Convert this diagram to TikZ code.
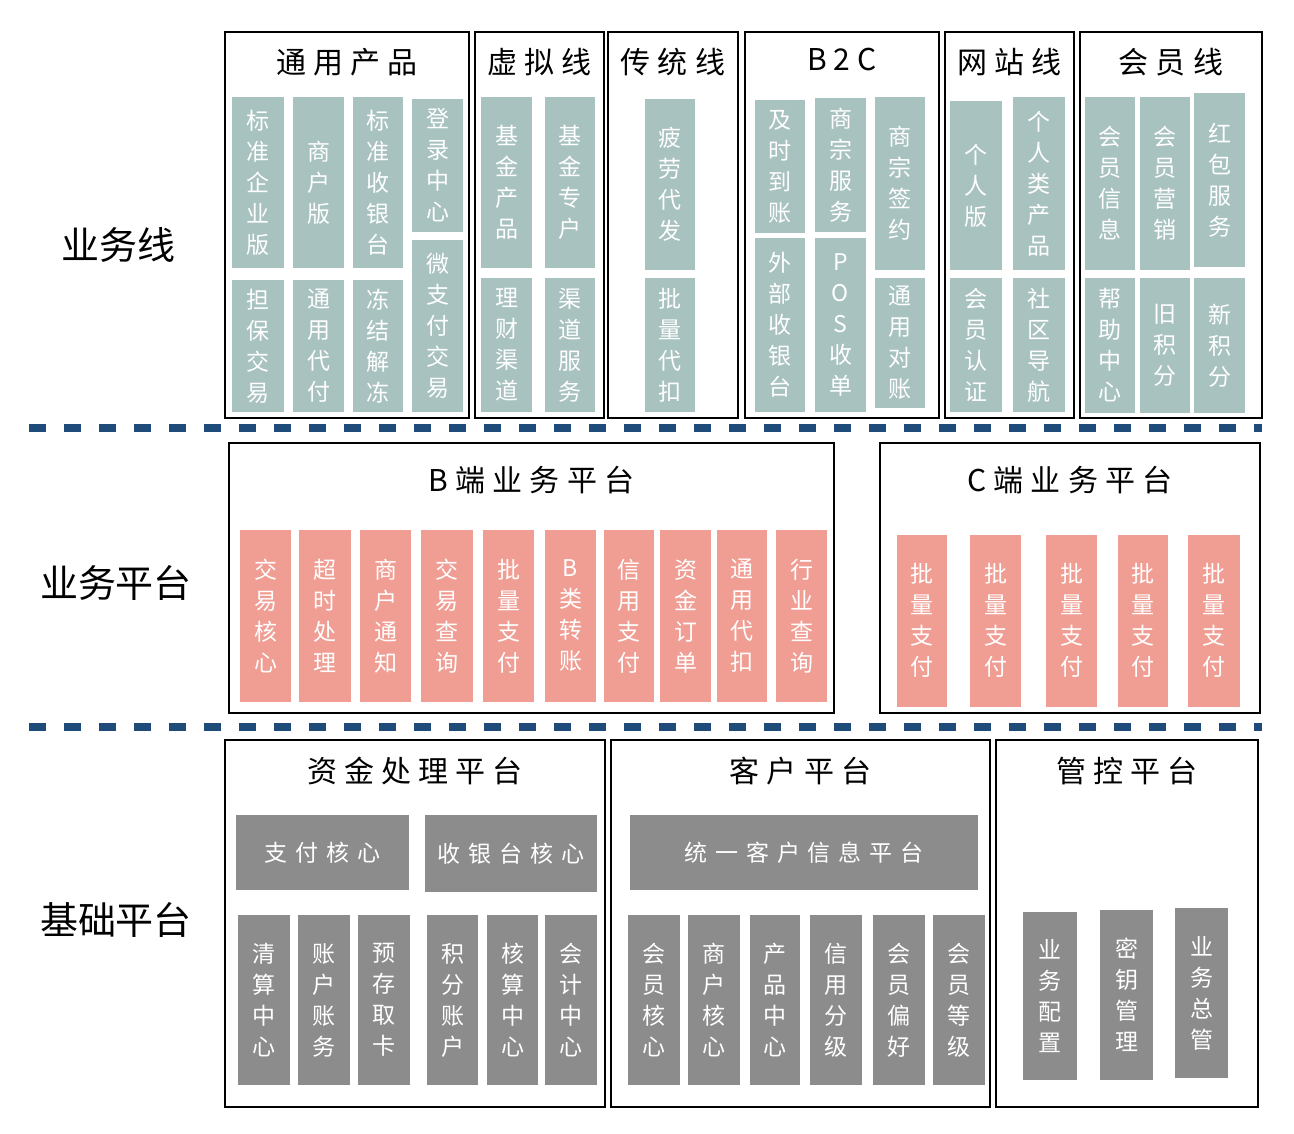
\documentclass[tikz,border=0pt]{standalone}
\usepackage{fontspec}
\setmainfont{Noto Sans CJK SC}
\newfontfamily\spacedfont[LetterSpace=24]{Noto Sans CJK SC}
\newfontfamily\widespaced[LetterSpace=34]{Noto Sans CJK SC}
\usepackage{xcolor}
\usepackage{tikz}
\usetikzlibrary{fit,positioning}
\XeTeXlinebreaklocale "zh"
\XeTeXlinebreakskip=0pt plus 1pt
\definecolor{sageC}{HTML}{A8C2C0}
\definecolor{pinkC}{HTML}{F09D93}
\definecolor{grayC}{HTML}{8C8C8C}
\definecolor{sepC}{HTML}{1F4B7A}
\newcommand{\titlefont}{\spacedfont\fontsize{30}{32}\selectfont}
\newcommand{\sidefont}{\fontsize{38}{40}\selectfont}
\newcommand{\boxfont}{\fontsize{23}{31}\selectfont}
\newcommand{\widefont}{\widespaced\fontsize{23}{26}\selectfont}
\tikzstyle{lineframe} = [rectangle, draw, line width=1.6pt, inner sep=0pt]
\tikzstyle{frametitle} = [font=\titlefont, inner sep=0pt]
\tikzstyle{sidelabel} = [font=\sidefont, inner sep=0pt]
\tikzstyle{vbox} = [rectangle, inner sep=0pt, text=white, text width=25pt,
    align=center, font=\boxfont]
\tikzstyle{sagebox} = [vbox, fill=sageC]
\tikzstyle{pinkbox} = [vbox, fill=pinkC, minimum height=172]
\tikzstyle{graybox} = [vbox, fill=grayC]
\tikzstyle{widegray} = [rectangle, inner sep=0pt, fill=grayC, text=white, font=\widefont]
\tikzstyle{sepline} = [draw=sepC, line width=8pt, dash pattern=on 17pt off 18pt]

\begin{document}
\begin{tikzpicture}[x=1pt, y=-1pt]
			\useasboundingbox (0,0) rectangle (1294,1134);
			% Side labels
			\node [sidelabel] (lineLabel) at (118,245) {业务线};
			\node [sidelabel] (platLabel) at (116,583) {业务平台};
			\node [sidelabel] (baseLabel) at (116,920) {基础平台};

			% Business lines
			\node [lineframe, fit={(225,32) (469,418)}] (generalFrame) {};
			\node [frametitle, below=17pt of generalFrame.north] (generalTitle) {通用产品};
			\node [lineframe, fit={(475,32) (604,418)}] (virtualFrame) {};
			\node [frametitle, below=17pt of virtualFrame.north] (virtualTitle) {虚拟线};
			\node [lineframe, fit={(608,32) (738,418)}] (classicFrame) {};
			\node [frametitle, below=17pt of classicFrame.north] (classicTitle) {传统线};
			\node [lineframe, fit={(745,32) (939,418)}] (btocFrame) {};
			\node [frametitle, below=17pt of btocFrame.north] (btocTitle) {B2C};
			\node [lineframe, fit={(945,32) (1074,418)}] (siteFrame) {};
			\node [frametitle, below=17pt of siteFrame.north] (siteTitle) {网站线};
			\node [lineframe, fit={(1080,32) (1262,418)}] (memberFrame) {};
			\node [frametitle, below=17pt of memberFrame.north] (memberTitle) {会员线};

			\node [sagebox, minimum width=52, minimum height=171] (stdEntBox) at (258,182.5) {标准企业版};
			\node [sagebox, minimum width=52, minimum height=132] (guarTradeBox) at (258,346) {担保交易};
			\node [sagebox, minimum width=51, minimum height=171] (merchEdBox) at (318.5,182.5) {商户版};
			\node [sagebox, minimum width=51, minimum height=132] (genPayoutBox) at (318.5,346) {通用代付};
			\node [sagebox, minimum width=50, minimum height=171] (stdCashierBox) at (378,182.5) {标准收银台};
			\node [sagebox, minimum width=50, minimum height=132] (freezeBox) at (378,346) {冻结解冻};
			\node [sagebox, minimum width=51, minimum height=133] (loginBox) at (437.5,165.5) {登录中心};
			\node [sagebox, minimum width=51, minimum height=172] (microPayBox) at (437.5,326) {微支付交易};

			\node [sagebox, minimum width=51, minimum height=171] (fundProdBox) at (506.5,182.5) {基金产品};
			\node [sagebox, minimum width=51, minimum height=134] (wealthChanBox) at (506.5,345) {理财渠道};
			\node [sagebox, minimum width=50, minimum height=171] (fundAcctBox) at (570,182.5) {基金专户};
			\node [sagebox, minimum width=50, minimum height=134] (chanServBox) at (570,345) {渠道服务};

			\node [sagebox, minimum width=50, minimum height=171] (laborPayBox) at (670,184.5) {疲劳代发};
			\node [sagebox, minimum width=50, minimum height=134] (batchDebitBox) at (670,345) {批量代扣};

			\node [sagebox, minimum width=50, minimum height=133] (instantBox) at (780,166.5) {及时到账};
			\node [sagebox, minimum width=50, minimum height=174] (extCashierBox) at (780,325) {外部收银台};
			\node [sagebox, minimum width=51, minimum height=134] (merchServBox) at (840.5,165) {商宗服务};
			\node [sagebox, minimum width=51, minimum height=174] (posBox) at (840.5,325) {P\\O\\S\\收\\单};
			\node [sagebox, minimum width=50, minimum height=173] (merchSignBox) at (900,183.5) {商宗签约};
			\node [sagebox, minimum width=50, minimum height=130] (genReconBox) at (900,343) {通用对账};

			\node [sagebox, minimum width=52, minimum height=169] (personalBox) at (976,185.5) {个人版};
			\node [sagebox, minimum width=52, minimum height=134] (memberAuthBox) at (976,345) {会员认证};
			\node [sagebox, minimum width=52, minimum height=173] (personalProdBox) at (1039,183.5) {个人类产品};
			\node [sagebox, minimum width=52, minimum height=134] (communityBox) at (1039,345) {社区导航};

			\node [sagebox, minimum width=50, minimum height=173] (memberInfoBox) at (1110,183.5) {会员信息};
			\node [sagebox, minimum width=50, minimum height=135] (helpBox) at (1110,345.5) {帮助中心};
			\node [sagebox, minimum width=50, minimum height=173] (memberMktBox) at (1165,183.5) {会员营销};
			\node [sagebox, minimum width=50, minimum height=135] (oldPointsBox) at (1165,345.5) {旧积分};
			\node [sagebox, minimum width=51, minimum height=174] (redPacketBox) at (1219.5,180) {红包服务};
			\node [sagebox, minimum width=51, minimum height=135] (newPointsBox) at (1219.5,345.5) {新积分};

			% Separators
			\coordinate (sepOneL) at (29,428);
			\coordinate (sepOneR) at (1262,428);
			\coordinate (sepTwoL) at (29,727);
			\coordinate (sepTwoR) at (1262,727);
			\path [sepline] (sepOneL) -- (sepOneR);
			\path [sepline] (sepTwoL) -- (sepTwoR);

			% Business platforms
			\node [lineframe, fit={(229,443) (834,713)}] (bPlatFrame) {};
			\node [frametitle, below=24pt of bPlatFrame.north] (bPlatTitle) {B端业务平台};
			\node [lineframe, fit={(880,443) (1260,713)}] (cPlatFrame) {};
			\node [frametitle, below=24pt of cPlatFrame.north] (cPlatTitle) {C端业务平台};

			\node [pinkbox, minimum width=51] (tradeCoreBox) at (265.5,616) {交易核心};
			\node [pinkbox, minimum width=52] (timeoutBox) at (325,616) {超时处理};
			\node [pinkbox, minimum width=51] (merchNotifyBox) at (385.5,616) {商户通知};
			\node [pinkbox, minimum width=52] (tradeQueryBox) at (447,616) {交易查询};
			\node [pinkbox, minimum width=51] (batchPayBox) at (508.5,616) {批量支付};
			\node [pinkbox, minimum width=51] (bTransferBox) at (570.5,616) {B\\类转账};
			\node [pinkbox, minimum width=50] (creditPayBox) at (629,616) {信用支付};
			\node [pinkbox, minimum width=51] (fundOrderBox) at (685.5,616) {资金订单};
			\node [pinkbox, minimum width=50] (genDebitBox) at (742,616) {通用代扣};
			\node [pinkbox, minimum width=51] (industryQueryBox) at (801.5,616) {行业查询};

			\node [pinkbox, minimum width=50] (cBatchPayA) at (922,620.5) {批量支付};
			\node [pinkbox, minimum width=51] (cBatchPayB) at (995.5,620.5) {批量支付};
			\node [pinkbox, minimum width=51] (cBatchPayC) at (1071.5,620.5) {批量支付};
			\node [pinkbox, minimum width=50] (cBatchPayD) at (1143,620.5) {批量支付};
			\node [pinkbox, minimum width=52] (cBatchPayE) at (1214,620.5) {批量支付};

			% Base platforms
			\node [lineframe, fit={(225,740) (605,1107)}] (fundFrame) {};
			\node [frametitle, below=18pt of fundFrame.north] (fundTitle) {资金处理平台};
			\node [lineframe, fit={(611,740) (990,1107)}] (custFrame) {};
			\node [frametitle, below=18pt of custFrame.north] (custTitle) {客户平台};
			\node [lineframe, fit={(996,740) (1258,1107)}] (ctrlFrame) {};
			\node [frametitle, below=18pt of ctrlFrame.north] (ctrlTitle) {管控平台};

			\node [widegray, minimum width=173, minimum height=75] (payCoreBox) at (322.5,852.5) {支付核心};
			\node [widegray, minimum width=172, minimum height=77] (cashierCoreBox) at (511,853.5) {收银台核心};
			\node [widegray, minimum width=348, minimum height=75] (custInfoBox) at (804,852.5) {统一客户信息平台};

			\node [graybox, minimum width=52, minimum height=170] (clearingBox) at (264,1000) {清算中心};
			\node [graybox, minimum width=52, minimum height=170] (acctBookBox) at (324,1000) {账户账务};
			\node [graybox, minimum width=52, minimum height=170] (prepaidBox) at (384,1000) {预存取卡};
			\node [graybox, minimum width=51, minimum height=170] (pointsAcctBox) at (452.5,1000) {积分账户};
			\node [graybox, minimum width=51, minimum height=170] (accountingBox) at (512.5,1000) {核算中心};
			\node [graybox, minimum width=52, minimum height=170] (finCenterBox) at (571,1000) {会计中心};

			\node [graybox, minimum width=52, minimum height=170] (memberCoreBox) at (654,1000) {会员核心};
			\node [graybox, minimum width=52, minimum height=170] (merchCoreBox) at (714,1000) {商户核心};
			\node [graybox, minimum width=50, minimum height=170] (prodCenterBox) at (775,1000) {产品中心};
			\node [graybox, minimum width=52, minimum height=170] (creditGradeBox) at (836,1000) {信用分级};
			\node [graybox, minimum width=52, minimum height=170] (memberPrefBox) at (899,1000) {会员偏好};
			\node [graybox, minimum width=52, minimum height=170] (memberLevelBox) at (959,1000) {会员等级};

			\node [graybox, minimum width=54, minimum height=168] (bizConfigBox) at (1050,996) {业务配置};
			\node [graybox, minimum width=53, minimum height=170] (keyMgmtBox) at (1126.5,995) {密钥管理};
			\node [graybox, minimum width=53, minimum height=170] (bizAdminBox) at (1201.5,993) {业务总管};
	\end{tikzpicture}
\end{document}
